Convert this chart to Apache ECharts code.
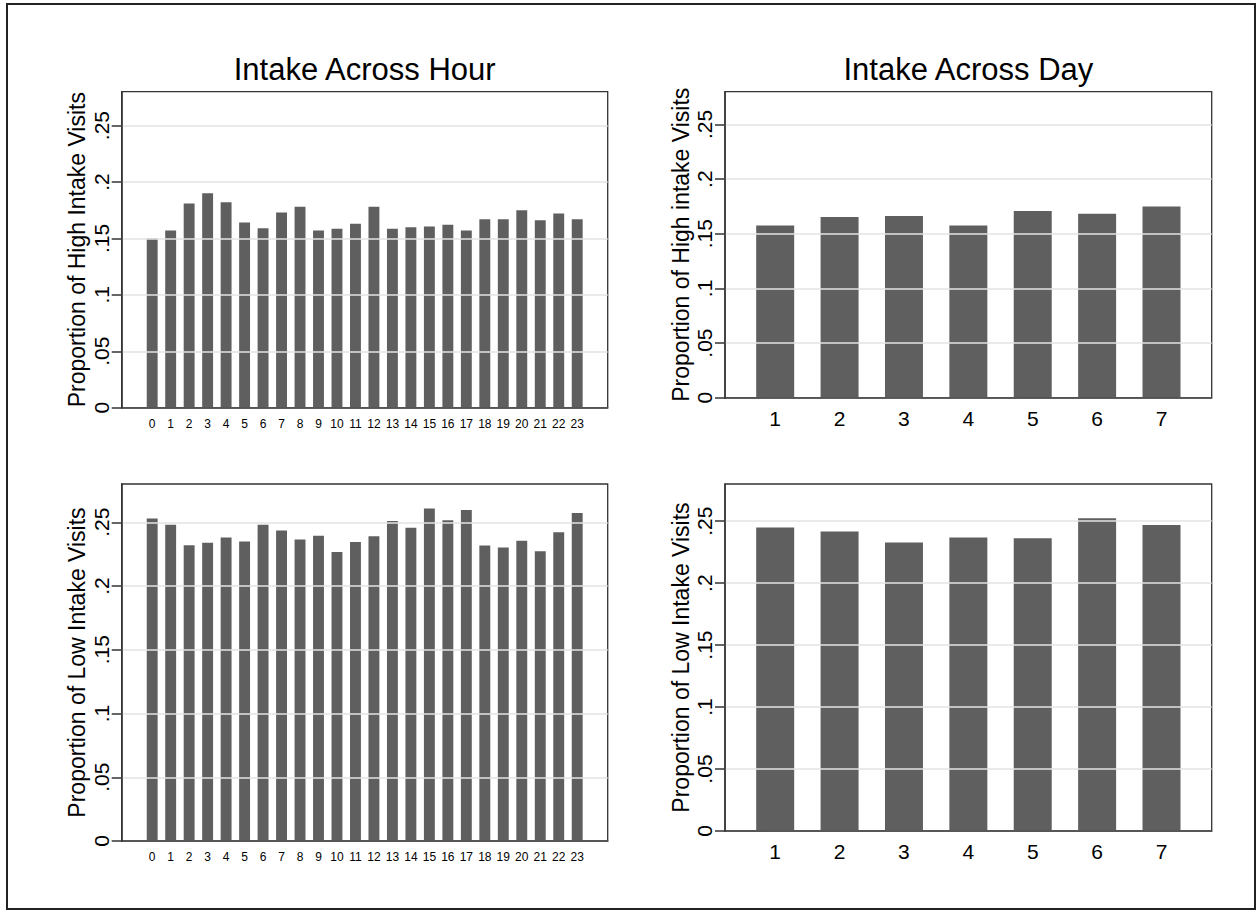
<!DOCTYPE html>
<html>
<head>
<meta charset="utf-8">
<script src="https://cdn.jsdelivr.net/npm/echarts@6/dist/echarts.min.js"></script>
<style>
html,body{margin:0;padding:0;background:#fff;}
#chart{width:1257px;height:912px;}
</style>
</head>
<body>
<div id="chart"></div>
<script>
// ---- data ----
var hourCategories = ['0','1','2','3','4','5','6','7','8','9','10','11','12','13','14','15','16','17','18','19','20','21','22','23'];
var dayCategories = ['1','2','3','4','5','6','7'];
var highByHour = [0.150,0.157,0.181,0.190,0.182,0.164,0.159,0.173,0.178,0.157,0.1585,0.163,0.178,0.1585,0.160,0.1605,0.162,0.157,0.167,0.167,0.175,0.166,0.172,0.167];
var lowByHour = [0.253,0.248,0.232,0.234,0.238,0.235,0.248,0.2435,0.2365,0.2395,0.2267,0.2346,0.239,0.251,0.2456,0.2607,0.2516,0.2597,0.2317,0.2301,0.2354,0.2273,0.2422,0.2573];
var highByDay = [0.1576,0.1653,0.1663,0.1576,0.1709,0.1684,0.1749];
var lowByDay = [0.2449,0.2417,0.2328,0.2368,0.2363,0.2524,0.2470];
var yTickValues = [0,0.05,0.1,0.15,0.2,0.25];
var yTickLabels = ['0','.05','.1','.15','.2','.25'];
var yMax = 0.28;
var titles = ['Intake Across Hour','Intake Across Day'];
var yNames = ['Proportion of High Intake Visits','Proportion of High intake Visits','Proportion of Low Intake Visits','Proportion of Low Intake Visits'];

// ---- layout ----
var FONT = '"Liberation Sans", Arial, Helvetica, sans-serif';
var panels = [
  {frame:{left:121.7, top:91.7, width:486, height:316}, inset:21.25, cats:hourCategories, vals:highByHour, name:yNames[0], labelSize:12},
  {frame:{left:725, top:91.7, width:486.7, height:306}, inset:18, cats:dayCategories, vals:highByDay, name:yNames[1], labelSize:21},
  {frame:{left:121.7, top:484, width:486, height:357}, inset:21.25, cats:hourCategories, vals:lowByHour, name:yNames[2], labelSize:12},
  {frame:{left:725, top:484, width:486.7, height:347}, inset:18, cats:dayCategories, vals:lowByDay, name:yNames[3], labelSize:21}
];

var grid = [], xAxis = [], yAxis = [], series = [];
panels.forEach(function(p, i){
  var f = p.frame;
  var fi = grid.length;
  grid.push({left:f.left, top:f.top, width:f.width, height:f.height, show:true, borderColor:'#333', borderWidth:1.3, backgroundColor:'#fff', containLabel:false});
  var bi = grid.length;
  grid.push({left:f.left + p.inset, top:f.top, width:f.width - 2*p.inset, height:f.height, containLabel:false});
  // frame axes
  xAxis.push({gridIndex:fi, type:'value', min:0, max:1, z:5,
    axisLine:{show:true, lineStyle:{color:'#333', width:1.5}}, axisTick:{show:false}, axisLabel:{show:false}, splitLine:{show:false}});
  yAxis.push({gridIndex:fi, type:'value', min:0, max:yMax, interval:0.05, z:5,
    name:p.name, nameLocation:'middle', nameGap:33, nameRotate:90,
    nameTextStyle:{fontFamily:FONT, fontSize:23, color:'#000'},
    axisLine:{show:true, lineStyle:{color:'#333', width:1.5}},
    axisTick:{show:true, length:10, lineStyle:{color:'#333', width:1.5}, customValues:yTickValues},
    axisLabel:{show:true, rotate:90, margin:10, fontFamily:FONT, fontSize:21, color:'#000', customValues:yTickValues,
      formatter:function(v){ for (var k=0;k<yTickValues.length;k++){ if (Math.abs(v-yTickValues[k])<1e-9) return yTickLabels[k]; } return ''; }},
    splitLine:{show:true, lineStyle:{color:'#e3e3e3', width:1.5}}
  });
  // bar axes
  xAxis.push({gridIndex:bi, type:'category', data:p.cats, boundaryGap:true,
    axisLine:{show:false}, axisTick:{show:false},
    axisLabel:{show:true, interval:0, margin:10, fontFamily:FONT, fontSize:p.labelSize, color:'#000'}, splitLine:{show:false}});
  yAxis.push({gridIndex:bi, type:'value', min:0, max:yMax, show:false, splitLine:{show:false}});
  series.push({type:'bar', xAxisIndex:bi, yAxisIndex:bi, data:p.vals, barWidth:'59%',
    itemStyle:{color:'#5f5f5f'}, z:3, animation:false});
});

var graphic = [
  {type:'rect', shape:{x:7, y:4, width:1248, height:905}, style:{fill:'none', stroke:'#222', lineWidth:2}, z:-10, silent:true},
  {type:'text', x:364.7, y:69, style:{text:titles[0], fontFamily:FONT, fontSize:31, font:'31px ' + FONT, fill:'#000', align:'center', verticalAlign:'middle', textAlign:'center', textVerticalAlign:'middle'}, z:10},
  {type:'text', x:968.4, y:69, style:{text:titles[1], fontFamily:FONT, fontSize:31, font:'31px ' + FONT, fill:'#000', align:'center', verticalAlign:'middle', textAlign:'center', textVerticalAlign:'middle'}, z:10}
];

var chart = echarts.init(document.getElementById('chart'), null, {renderer:'svg', width:1257, height:912});
chart.setOption({
  animation:false,
  backgroundColor:'#fff',
  textStyle:{fontFamily:FONT},
  grid:grid, xAxis:xAxis, yAxis:yAxis, series:series, graphic:graphic
});
</script>
</body>
</html>
